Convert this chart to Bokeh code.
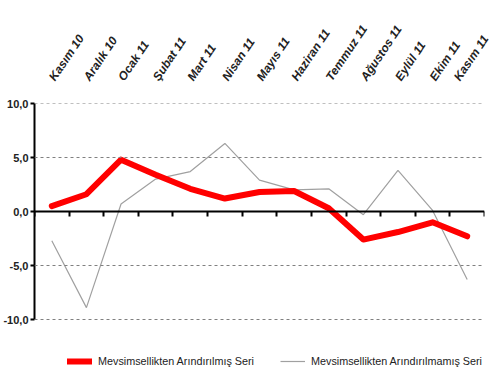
import math
from bokeh.plotting import figure
from bokeh.models import (Range1d, LinearAxis, FixedTicker, Span, Legend, LegendItem)
from bokeh.embed import file_html
from bokeh.resources import INLINE

months = ["Kasım 10", "Aralık 10", "Ocak 11", "Şubat 11", "Mart 11", "Nisan 11", "Mayıs 11",
          "Haziran 11", "Temmuz 11", "Ağustos 11", "Eylül 11", "Ekim 11", "Kasım 11"]
sa_series = [0.5, 1.6, 4.8, 3.4, 2.1, 1.2, 1.8, 1.9, 0.3, -2.6, -1.9, -1.0, -2.3]
nsa_series = [-2.7, -8.9, 0.7, 3.0, 3.7, 6.3, 2.9, 2.0, 2.1, -0.3, 3.8, 0.1, -6.3]
y_ticks = [-10, -5, 0, 5, 10]
y_tick_labels = ["-10,0", "-5,0", "0,0", "5,0", "10,0"]
legend_labels = ["Mevsimsellikten Arındırılmış Seri", "Mevsimsellikten Arındırılmamış Seri"]

n = len(months)
centers = [i + 0.5 for i in range(n)]
bounds = list(range(n + 1))

# plot area: 216 px for the -10..10 band, plus 49 px below for the legend
px_per_unit = 216 / 20
y_bottom = -10 - 49 / px_per_unit

p = figure(frame_width=450, frame_height=265, output_backend="svg", toolbar_location=None,
           x_range=Range1d(0, n), y_range=Range1d(y_bottom, 10),
           x_axis_location=None, y_axis_location=None,
           min_border_left=27, min_border_right=7, min_border_top=103, min_border_bottom=0)
p.outline_line_color = None
p.background_fill_color = "white"
p.border_fill_color = "white"
p.xgrid.visible = False
p.ygrid.visible = False

# dashed horizontal gridlines
for yv in y_ticks:
    if yv != 0:
        p.add_layout(Span(location=yv, dimension="width", line_color="#808080",
                          line_dash="3 3", line_width=1))

# y axis
yax = LinearAxis(ticker=FixedTicker(ticks=y_ticks), bounds=(-10, 10),
                 major_label_overrides={t: l for t, l in zip(y_ticks, y_tick_labels)})
yax.axis_line_color = "black"
yax.axis_line_width = 2
yax.major_tick_line_color = "black"
yax.major_tick_line_width = 2
yax.major_tick_out = 4
yax.major_tick_in = 0
yax.minor_tick_line_color = None
yax.major_label_text_font = "Liberation Sans"
yax.major_label_text_font_style = "bold"
yax.major_label_text_font_size = "11px"
yax.major_label_text_color = "#222222"
yax.major_label_standoff = 2
p.add_layout(yax, "left")

# category axis above
xax = LinearAxis(ticker=FixedTicker(ticks=centers),
                 major_label_overrides={c: m for c, m in zip(centers, months)})
xax.axis_line_color = None
xax.major_tick_line_color = None
xax.minor_tick_line_color = None
xax.major_label_orientation = math.radians(56)
xax.major_label_text_font = "Liberation Sans"
xax.major_label_text_font_style = "bold italic"
xax.major_label_text_font_size = "12px"
xax.major_label_text_color = "#222222"
xax.major_label_standoff = 18
p.add_layout(xax, "above")

# zero axis with boundary ticks
zax = LinearAxis(ticker=FixedTicker(ticks=bounds), fixed_location=0,
                 major_label_overrides={b: "" for b in bounds})
zax.axis_line_color = "black"
zax.axis_line_width = 2
zax.major_tick_line_color = "black"
zax.major_tick_line_width = 2
zax.major_tick_out = 5
zax.major_tick_in = 0
zax.minor_tick_line_color = None
zax.major_label_text_font_size = "0px"
zax.major_label_standoff = 0
p.add_layout(zax, "below")

r_nsa = p.line(centers, nsa_series, line_color="#A0A0A0", line_width=1.2)
r_sa = p.line(centers, sa_series, line_color="#FF0000", line_width=6,
              line_cap="round", line_join="round")

legend = Legend(items=[LegendItem(label=legend_labels[0], renderers=[r_sa]),
                       LegendItem(label=legend_labels[1], renderers=[r_nsa])],
                orientation="horizontal", location=(33, 0))
legend.label_text_font = "Liberation Sans"
legend.label_text_font_size = "10.8px"
legend.label_text_color = "#222222"
legend.glyph_width = 25
legend.glyph_height = 14
legend.label_height = 14
legend.label_standoff = 6
legend.spacing = 26
legend.border_line_color = None
legend.background_fill_alpha = 0
legend.padding = 0
legend.margin = 0
p.add_layout(legend, "center")

open("out.html", "w").write(file_html(p, INLINE))
